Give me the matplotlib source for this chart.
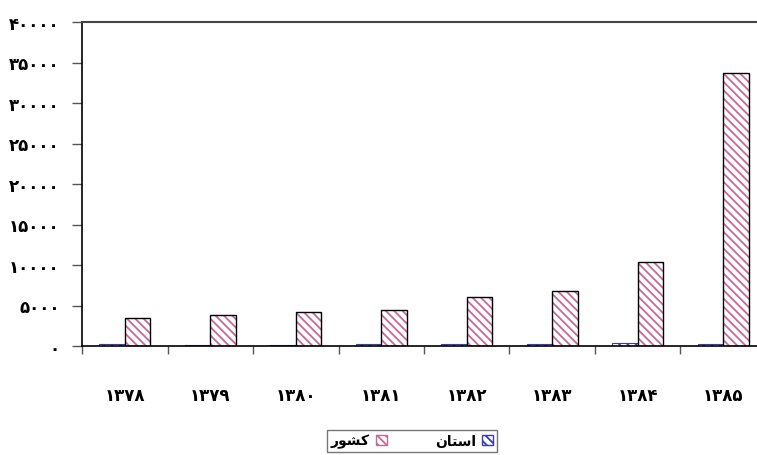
"""Bar chart of provincial vs national values, 1378-1385 (Persian labels)."""

import matplotlib

matplotlib.use("Agg")
import matplotlib.pyplot as plt
import numpy as np
from matplotlib.patches import Patch

plt.rcParams.update({"font.family": "DejaVu Sans", "hatch.linewidth": 1.3})

# years in Persian digits
years = ["۱۳۷۸", "۱۳۷۹", "۱۳۸۰", "۱۳۸۱", "۱۳۸۲", "۱۳۸۳", "۱۳۸۴", "۱۳۸۵"]
ostan = [250, 100, 100, 250, 200, 200, 400, 200]
keshvar = [3450, 3800, 4150, 4500, 6000, 6800, 10400, 33700]
y_ticks = [0, 5000, 10000, 15000, 20000, 25000, 30000, 35000, 40000]
y_tick_labels = ["۰", "۵۰۰۰", "۱۰۰۰۰", "۱۵۰۰۰", "۲۰۰۰۰", "۲۵۰۰۰", "۳۰۰۰۰", "۳۵۰۰۰", "۴۰۰۰۰"]
# legend names, written in shaped visual order (matplotlib has no Arabic shaping)
label_ostan = "\uFEE5\uFE8E\uFE98\uFEB3\uFE8D"  # استان
label_keshvar = "\uFEAD\uFEEE\uFEB8\uFB90"  # کشور

BLUE = "#3A3AB8"
PINK = "#C8689A"
HATCH = "\\\\\\\\"

W, H = 757, 456
fig = plt.figure(figsize=(W / 100, H / 100), dpi=100)
ax = fig.add_axes([82 / W, 109 / H, (766 - 82) / W, 324 / H])

x = np.arange(len(years))
bw = 0.3
# hatched fill first, then a plain outline on top
ax.bar(x - bw / 2, ostan, bw, facecolor="white", edgecolor=BLUE, hatch=HATCH, linewidth=0)
ax.bar(x - bw / 2, ostan, bw, facecolor="none", edgecolor=BLUE, linewidth=0.8)
ax.bar(x + bw / 2, keshvar, bw, facecolor="white", edgecolor=PINK, hatch=HATCH, linewidth=0)
ax.bar(x + bw / 2, keshvar, bw, facecolor="none", edgecolor="black", linewidth=1.0)

ax.set_xlim(-0.5, len(years) - 0.5)
ax.set_ylim(0, 40000)

ax.set_yticks(y_ticks)
ax.set_yticklabels(y_tick_labels, fontweight="bold", fontsize=12)
ax.set_xticks(x)
ax.set_xticklabels(years, fontweight="bold", fontsize=12)
ax.set_xticks(np.arange(len(years) + 1) - 0.5, minor=True)
ax.tick_params(axis="x", which="major", length=0, pad=29)
ax.tick_params(axis="x", which="minor", length=6, color="#555555", width=1)
ax.tick_params(axis="y", length=7, width=1, color="#555555", pad=9)

ax.spines["right"].set_visible(False)
ax.spines["bottom"].set_linewidth(1.2)
ax.spines["left"].set_linewidth(1.2)
ax.spines["top"].set_color("#444444")
ax.spines["top"].set_linewidth(1.5)

handles = [
    Patch(facecolor="white", edgecolor=PINK, hatch=HATCH, label=label_keshvar),
    Patch(facecolor="white", edgecolor=BLUE, hatch=HATCH, label=label_ostan),
]
fig.legend(
    handles=handles,
    loc="center",
    bbox_to_anchor=(412 / W, 1 - 442 / H),
    ncol=2,
    markerfirst=False,
    frameon=True,
    fancybox=False,
    edgecolor="#555555",
    prop={"weight": "bold", "size": 10},
    handlelength=0.8,
    handleheight=0.8,
    columnspacing=3.5,
    handletextpad=0.4,
    borderpad=0.25,
)

fig.savefig("out.png", dpi=100, facecolor="white")
